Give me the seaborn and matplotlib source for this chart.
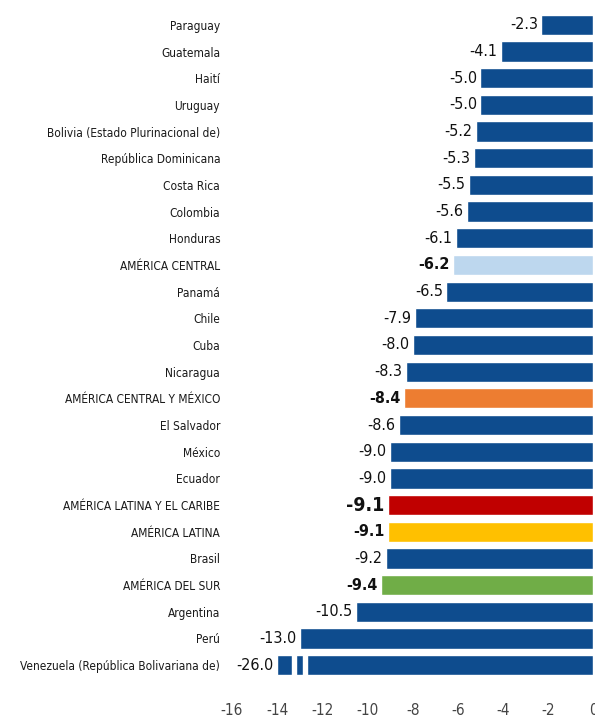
import matplotlib
matplotlib.use("Agg")
import matplotlib.pyplot as plt
import numpy as np
import pandas as pd
import seaborn as sns

# data
paises = ["Paraguay", "Guatemala", "Haití", "Uruguay",
          "Bolivia (Estado Plurinacional de)", "República Dominicana",
          "Costa Rica", "Colombia", "Honduras", "AMÉRICA CENTRAL", "Panamá",
          "Chile", "Cuba", "Nicaragua", "AMÉRICA CENTRAL Y MÉXICO",
          "El Salvador", "México", "Ecuador", "AMÉRICA LATINA Y EL CARIBE",
          "AMÉRICA LATINA", "Brasil", "AMÉRICA DEL SUR", "Argentina", "Perú",
          "Venezuela (República Bolivariana de)"]
valores = [-2.3, -4.1, -5.0, -5.0, -5.2, -5.3, -5.5, -5.6, -6.1, -6.2, -6.5,
           -7.9, -8.0, -8.3, -8.4, -8.6, -9.0, -9.0, -9.1, -9.1, -9.2, -9.4,
           -10.5, -13.0, -26.0]
colores_agregados = {"AMÉRICA CENTRAL": "#BDD7EE",
                     "AMÉRICA CENTRAL Y MÉXICO": "#ED7D31",
                     "AMÉRICA LATINA Y EL CARIBE": "#C00000",
                     "AMÉRICA LATINA": "#FFC000",
                     "AMÉRICA DEL SUR": "#70AD47"}
azul = "#0E4C8E"
corte = -14.0

df = pd.DataFrame({"pais": paises, "valor": valores})
df["dibujo"] = np.maximum(df["valor"], corte)
paleta = {p: colores_agregados.get(p, azul) for p in paises}

sns.set_style("white")
plt.rcParams["font.family"] = ["DejaVu Sans"]
plt.rcParams["font.stretch"] = "condensed"
plt.rcParams["axes.unicode_minus"] = False

fig = plt.figure(figsize=(5.95, 7.21), dpi=100)
ax = fig.add_axes([0.39, 0.059, 0.607, 0.925])

sns.barplot(data=df, x="dibujo", y="pais", hue="pais", palette=paleta,
            order=paises, width=0.76, legend=False, ax=ax, saturation=1)

# corte en la barra de Venezuela
barra = ax.patches[-1]
for xc in [-13.34, -12.85]:
    ax.add_patch(plt.Rectangle((xc, barra.get_y() - 0.05), 0.18,
                               barra.get_height() + 0.1, color="white", zorder=5))

for i, (p, v, d) in enumerate(zip(paises, valores, df["dibujo"])):
    negrita = p in colores_agregados
    tam = 14 if p == "AMÉRICA LATINA Y EL CARIBE" else 11.5
    ax.text(d - 0.15, i, f"{v:.1f}", ha="right", va="center", fontsize=tam,
            fontweight="bold" if negrita else "normal", color="#111111")

ax.set_xlim(-16, 0)
ax.set_xticks(np.arange(-16, 1, 2))
ax.set_xlabel("")
ax.set_ylabel("")
ax.tick_params(axis="y", length=0, pad=8.5, labelsize=8.6, labelcolor="#1a1a1a")
ax.tick_params(axis="x", length=0, pad=18, labelsize=11, labelcolor="#444444")
sns.despine(ax=ax, left=True, bottom=True)

fig.savefig("out.png", dpi=100)
